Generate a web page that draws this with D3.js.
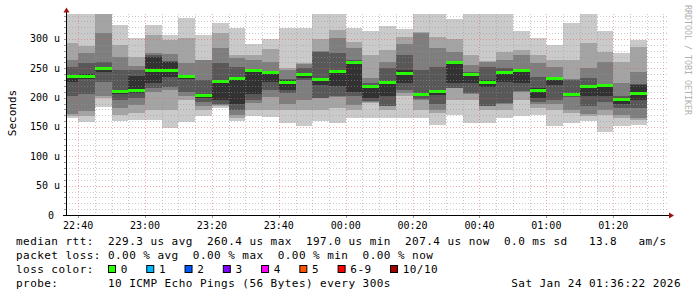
<!DOCTYPE html>
<html>
<head>
<meta charset="utf-8">
<script src="https://cdn.jsdelivr.net/npm/d3@7"></script>
<style>
body { margin: 0; background: #fff; }
text { font-family: "DejaVu Sans Mono", monospace; fill: #000; white-space: pre; }
</style>
</head>
<body>
<script>
// 5 minute steps, each label is the end of the step
var times = ["22:40","22:45","22:50","22:55","23:00","23:05","23:10","23:15","23:20","23:25",
             "23:30","23:35","23:40","23:45","23:50","23:55","00:00","00:05","00:10","00:15",
             "00:20","00:25","00:30","00:35","00:40","00:45","00:50","00:55","01:00","01:05",
             "01:10","01:15","01:20","01:25","01:30"];

// median rtt per step (us)
var median = [235.8,235.8,248.9,209.7,213.0,246.0,246.0,235.8,204.0,227.0,
              233.0,246.6,242.6,225.5,239.8,231.8,244.9,260.2,218.2,225.5,
              241.5,205.1,210.2,260.4,239.8,225.5,242.6,245.5,211.4,233.5,
              205.1,218.7,219.9,197.0,207.4];

// the 10 sorted pings per step (us)
var pings = [
  [165,168,172,202,227,239,253,265,293,350],
  [159,169,177,206,231,240,259,276,288,350],
  [184,200,202,227,244,252,261,311,350,350],
  [160,170,182,196,207,213,247,270,290,324],
  [162,174,188,199,208,237,247,254,270,302],
  [162,179,210,216,225,270,272,276,307,324],
  [148,179,213,219,236,261,262,274,298,307],
  [159,196,202,210,231,237,239,259,301,336],
  [168,179,185,193,199,207,230,264,264,306],
  [182,186,188,190,196,230,259,284,311,328],
  [160,165,171,179,190,233,253,267,273,319],
  [169,179,191,196,207,247,248,264,273,292],
  [167,179,201,213,227,243,244,261,283,300],
  [157,179,190,208,213,230,232,247,250,319],
  [151,179,196,230,233,242,251,258,259,319],
  [160,179,199,200,222,233,278,279,300,350],
  [157,182,201,202,220,247,276,301,315,350],
  [165,179,188,202,210,261,264,284,295,319],
  [165,191,193,194,199,222,225,233,273,314],
  [165,179,185,186,202,227,250,261,282,322],
  [165,203,208,213,225,247,273,292,304,317],
  [165,179,196,197,203,207,247,311,312,350],
  [154,174,179,190,205,211,253,284,303,350],
  [171,196,216,217,225,262,263,278,300,334],
  [156,196,207,208,225,242,243,256,273,350],
  [156,179,185,186,219,230,253,261,262,350],
  [165,179,190,191,227,246,250,265,278,350],
  [169,196,210,211,225,247,248,273,282,314],
  [171,182,190,193,199,216,236,259,273,302],
  [151,179,190,196,222,234,236,253,265,289],
  [157,174,179,201,202,207,230,231,264,327],
  [160,169,173,185,202,220,233,250,293,350],
  [142,171,179,193,202,222,223,261,278,314],
  [151,165,171,182,190,199,202,225,261,276],
  [153,162,165,182,196,222,223,244,287,298]
];

var yTicks = [0,50,100,150,200,250,300];
var smokeColors = ["#cacaca","#a4a4a4","#7e7e7e","#585858","#323232"];
var lossLabels = ["0","1","2","3","4","5","6-9","10/10"];
var lossColors = ["#26ff00","#00b8ff","#0059ff","#7e00ff","#ff00ff","#ff5500","#ff0000","#a10000"];
var legendLines = [
  "median rtt:  229.3 us avg  260.4 us max  197.0 us min  207.4 us now  0.0 ms sd   13.8   am/s",
  "packet loss: 0.00 % avg  0.00 % max  0.00 % min  0.00 % now",
  "loss color:",
  "probe:       10 ICMP Echo Pings (56 Bytes) every 300s"
];
var stamp = "Sat Jan 24 01:36:22 2026";

var svgWidth = 697, svgHeight = 297;
var plot = { left: 66, right: 668, top: 14, bottom: 215 };

function toDate(s) {
  var h = +s.slice(0, 2), m = +s.slice(3);
  return new Date(Date.UTC(2026, 0, h < 12 ? 24 : 23, h, m));
}

var svg = d3.select("body").append("svg")
  .attr("width", svgWidth)
  .attr("height", svgHeight);

var x = d3.scaleUtc()
  .domain([new Date(Date.UTC(2026, 0, 23, 22, 36, 22)), new Date(Date.UTC(2026, 0, 24, 1, 36, 22))])
  .range([plot.left, plot.right]);

var y = d3.scaleLinear()
  .domain([0, 342.6])
  .range([plot.bottom, plot.top]);

svg.append("clipPath").attr("id", "clip")
  .append("rect")
  .attr("x", plot.left).attr("y", plot.top)
  .attr("width", plot.right - plot.left).attr("height", plot.bottom - plot.top);

var data = times.map(function(t, i) {
  var end = toDate(t);
  return { start: new Date(end.getTime() - 5 * 60000), end: end, p: pings[i], med: median[i] };
});

var chart = svg.append("g").attr("clip-path", "url(#clip)");

// smoke: outer pair of pings first, darker towards the middle
smokeColors.forEach(function(col, b) {
  chart.append("g").selectAll("rect")
    .data(data)
    .enter()
    .append("rect")
    .attr("x", d => x(d.start))
    .attr("width", d => x(d.end) - x(d.start))
    .attr("y", d => y(d.p[9 - b]))
    .attr("height", d => y(d.p[b]) - y(d.p[9 - b]))
    .attr("fill", col)
    .attr("shape-rendering", "crispEdges");
});

// median, coloured by loss (all 0 here)
chart.append("g").selectAll("rect")
  .data(data)
  .enter()
  .append("rect")
  .attr("x", d => x(d.start))
  .attr("width", d => x(d.end) - x(d.start))
  .attr("y", d => Math.round(y(d.med) - 1.5))
  .attr("height", 3)
  .attr("fill", lossColors[0])
  .attr("shape-rendering", "crispEdges");

// grid on top, dotted
var grid = svg.append("g").attr("fill", "none").attr("stroke-dasharray", "1,2")
  .attr("shape-rendering", "crispEdges");
var majorX = x.ticks(d3.utcMinute.every(20));
var minorX = x.ticks(d3.utcMinute.every(5)).filter(d => d.getUTCMinutes() % 20 != 0);
var minorY = d3.range(10, 342, 10).filter(v => v % 50 != 0);
var minorCol = "rgba(150,150,150,0.5)", majorCol = "rgba(230,90,90,0.5)";

grid.selectAll(".vmin").data(minorX).enter().append("line")
  .attr("x1", d => Math.round(x(d)) + 0.5).attr("x2", d => Math.round(x(d)) + 0.5)
  .attr("y1", plot.top).attr("y2", plot.bottom)
  .attr("stroke", minorCol);
grid.selectAll(".hmin").data(minorY).enter().append("line")
  .attr("x1", plot.left).attr("x2", plot.right)
  .attr("y1", d => Math.round(y(d)) + 0.5).attr("y2", d => Math.round(y(d)) + 0.5)
  .attr("stroke", minorCol);
grid.selectAll(".vmaj").data(majorX).enter().append("line")
  .attr("x1", d => Math.round(x(d)) + 0.5).attr("x2", d => Math.round(x(d)) + 0.5)
  .attr("y1", plot.top).attr("y2", plot.bottom)
  .attr("stroke", majorCol);
grid.selectAll(".hmaj").data(yTicks.slice(1)).enter().append("line")
  .attr("x1", plot.left).attr("x2", plot.right)
  .attr("y1", d => Math.round(y(d)) + 0.5).attr("y2", d => Math.round(y(d)) + 0.5)
  .attr("stroke", majorCol);

// small ticks outside the axes
var ticks = svg.append("g").attr("stroke", "#999").attr("shape-rendering", "crispEdges");
ticks.selectAll(".ty").data(minorY.concat(yTicks)).enter().append("line")
  .attr("x1", plot.left - 2).attr("x2", plot.left)
  .attr("y1", d => Math.round(y(d)) + 0.5).attr("y2", d => Math.round(y(d)) + 0.5);
ticks.selectAll(".tx").data(majorX).enter().append("line")
  .attr("x1", d => Math.round(x(d)) + 0.5).attr("x2", d => Math.round(x(d)) + 0.5)
  .attr("y1", plot.bottom).attr("y2", plot.bottom + 3);

// axes
svg.append("line")
  .attr("x1", plot.left + 0.5).attr("x2", plot.left + 0.5)
  .attr("y1", plot.bottom + 1).attr("y2", 11)
  .attr("stroke", "#000");
svg.append("line")
  .attr("x1", plot.left - 3).attr("x2", plot.right + 2)
  .attr("y1", plot.bottom + 0.5).attr("y2", plot.bottom + 0.5)
  .attr("stroke", "#000");
svg.append("path")
  .attr("d", `M${plot.left + 0.5},7.5 L${plot.left - 2.5},12.5 L${plot.left + 3.5},12.5 Z`)
  .attr("fill", "#a01010");
svg.append("path")
  .attr("d", `M${plot.right + 6},${plot.bottom + 0.5} L${plot.right + 1},${plot.bottom - 2.5} L${plot.right + 1},${plot.bottom + 3.5} Z`)
  .attr("fill", "#a01010");

// tick labels
svg.append("g").selectAll("text")
  .data(yTicks)
  .enter()
  .append("text")
  .attr("x", d => d == 0 ? 54 : 60)
  .attr("y", d => y(d) + 3.5)
  .attr("text-anchor", "end")
  .style("font-size", "10px")
  .text(d => d == 0 ? "0" : d + " u");

svg.append("g").selectAll("text")
  .data(majorX)
  .enter()
  .append("text")
  .attr("x", d => x(d))
  .attr("y", 229)
  .attr("text-anchor", "middle")
  .style("font-size", "10px")
  .text(d3.utcFormat("%H:%M"));

svg.append("text")
  .attr("transform", "translate(16,113) rotate(-90)")
  .attr("text-anchor", "middle")
  .style("font-size", "11px")
  .text("Seconds");

svg.append("text")
  .attr("transform", "translate(685,5) rotate(90)")
  .style("font-size", "8.3px")
  .style("fill", "#b0b0b0")
  .text("RRDTOOL / TOBI OETIKER");

// legend
var legend = svg.append("g").style("font-size", "11px").style("letter-spacing", "0.45px");
legendLines.forEach(function(line, i) {
  legend.append("text").attr("x", 16).attr("y", 245 + i * 14).text(line);
});

var cw = 7.07, bx = 108;
lossLabels.forEach(function(lab, i) {
  legend.append("rect")
    .attr("x", bx + 0.5).attr("y", 265.5)
    .attr("width", 7).attr("height", 7)
    .attr("fill", lossColors[i])
    .attr("stroke", "#000");
  legend.append("text").attr("x", bx + 12.7).attr("y", 273).text(lab);
  bx = bx + 12.7 + lab.length * cw + 18.5;
});

legend.append("text")
  .attr("x", 681).attr("y", 287)
  .attr("text-anchor", "end")
  .text(stamp);
</script>
</body>
</html>
